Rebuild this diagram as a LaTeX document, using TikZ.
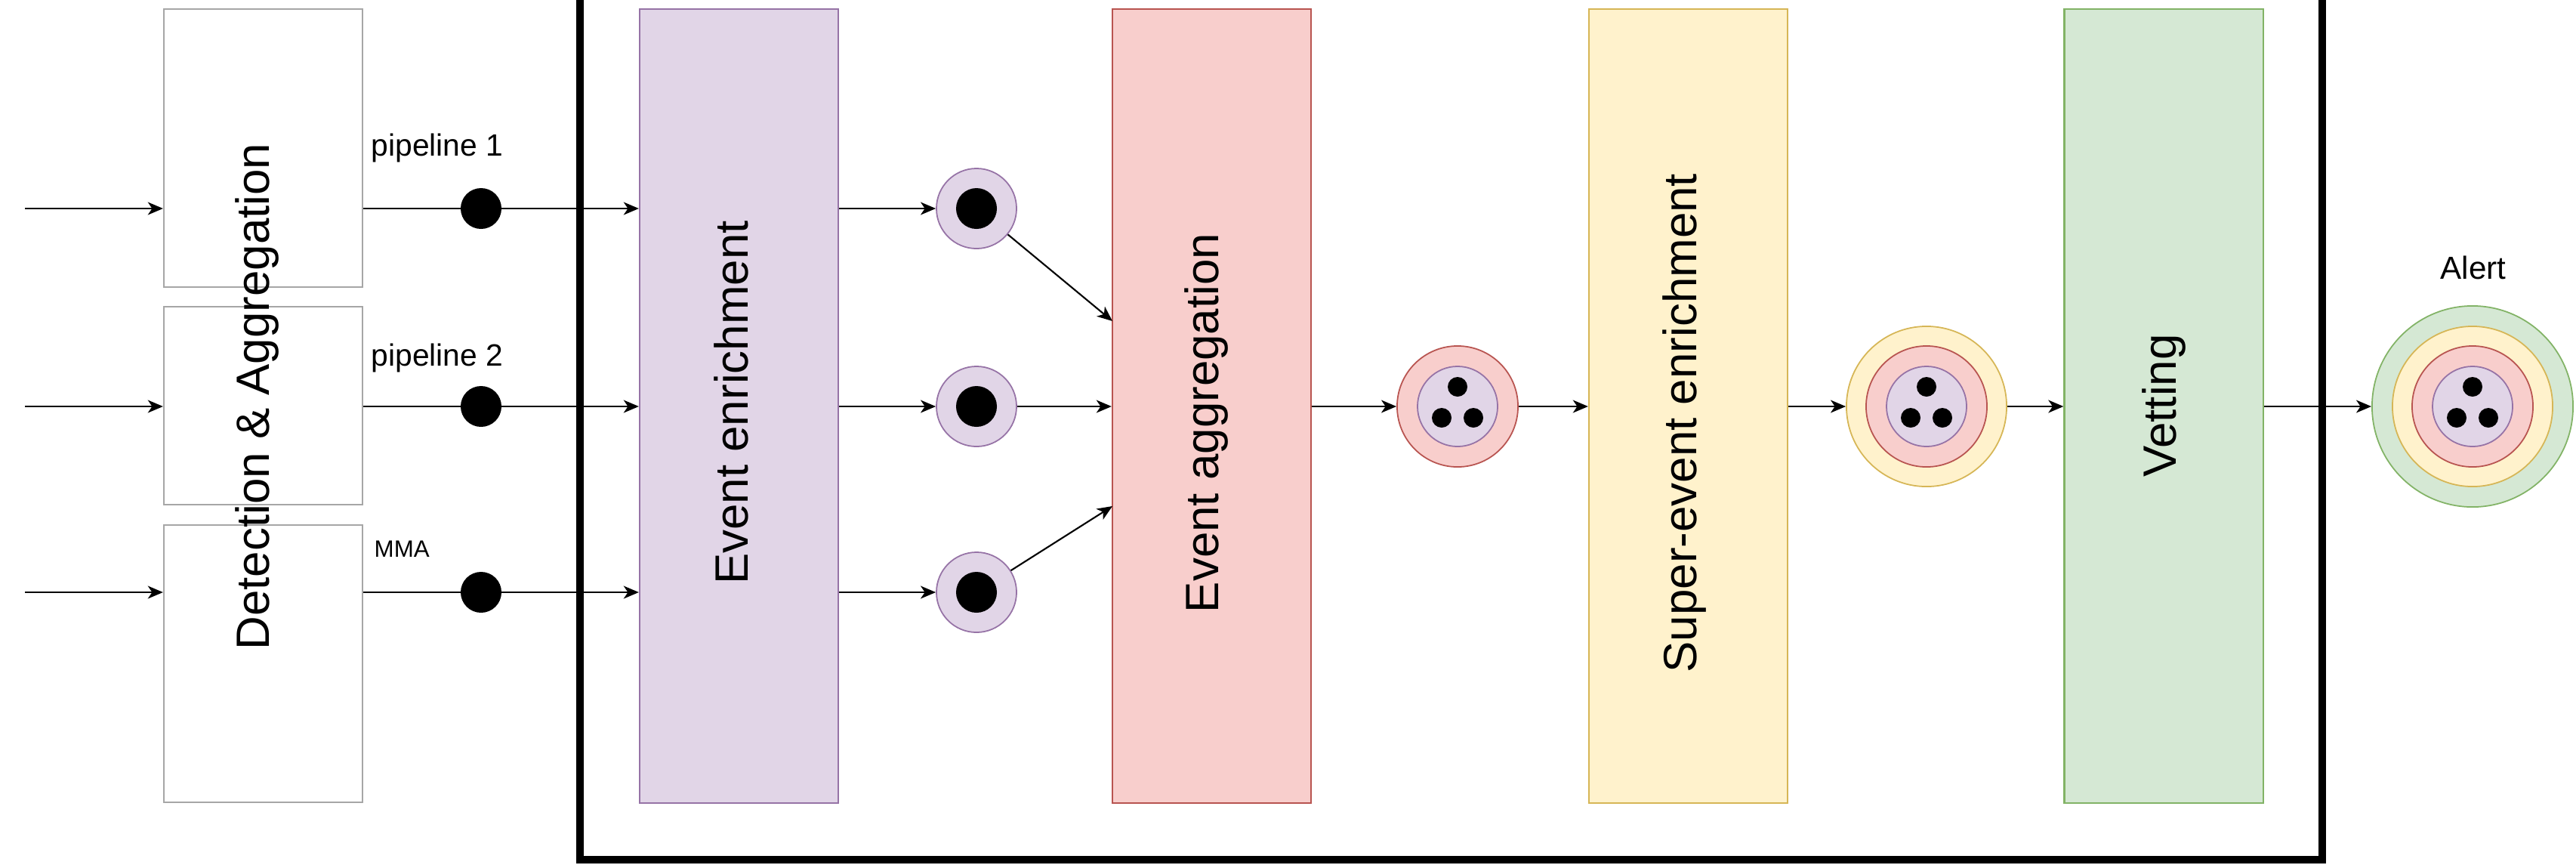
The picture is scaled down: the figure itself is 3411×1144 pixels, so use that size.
\documentclass[tikz,border=0pt]{standalone}
\usepackage{fontspec}
\setmainfont{Liberation Sans}
\usetikzlibrary{arrows.meta}
\definecolor{pfill}{HTML}{E1D5E7}
\definecolor{pstroke}{HTML}{9673A6}
\definecolor{rfill}{HTML}{F8CECC}
\definecolor{rstroke}{HTML}{B85450}
\definecolor{yfill}{HTML}{FFF2CC}
\definecolor{ystroke}{HTML}{D6B656}
\definecolor{gfill}{HTML}{D5E8D4}
\definecolor{gstroke}{HTML}{82B366}
\definecolor{dagray}{HTML}{A6A6A6}
\tikzset{
 arr/.style={-{Stealth[length=5.7pt,width=4.8pt,inset=1.6pt]}, line width=0.6pt},
 dabox/.style={rectangle, draw=dagray, line width=0.6pt, minimum width=2.63cm, inner sep=0},
 stage/.style={rectangle, line width=0.6pt, minimum width=2.63cm, minimum height=10.51cm, inner sep=0},
 ring/.style={circle, inner sep=0, line width=0.5pt},
 bigdot/.style={circle, fill=black, inner sep=0, minimum size=0.54cm},
 sdot/.style={circle, fill=black, inner sep=0, minimum size=0.26cm},
 bigtxt/.style={font=\fontsize{17.6}{21}\selectfont, rotate=90, inner sep=0},
 lbl/.style={font=\fontsize{11.6}{14}\selectfont, inner sep=0, anchor=west},
 prp/.style={fill=pfill, draw=pstroke},
 red/.style={fill=rfill, draw=rstroke},
 yel/.style={fill=yfill, draw=ystroke},
 grn/.style={fill=gfill, draw=gstroke},
}
\begin{document}
\begin{tikzpicture}[x=0.01cm,y=-0.01cm]
\useasboundingbox (0,0) rectangle (3411,1144);

% outer frame (top edge outside the picture)
\draw[line width=3pt] (768,-40) -- (768,1138) -- (3075,1138) -- (3075,-40);

% detection boxes
\node[dabox, minimum height=3.68cm] (d1) at (348.5,196) {};
\node[dabox, minimum height=2.62cm] (d2) at (348.5,537) {};
\node[dabox, minimum height=3.67cm] (d3) at (348.5,878.5) {};
\node[bigtxt] (dtxt) at (340,525) {Detection \& Aggregation};

% stages
\node[stage, prp] (enr) at (978.5,537.5) {};
\node[stage, red] (agg) at (1604.5,537.5) {};
\node[stage, yel] (sup) at (2235.5,537.5) {};
\node[stage, grn] (vet) at (2865,537.5) {};
\node[bigtxt] (enrt) at (968,533) {Event enrichment};
\node[bigtxt] (aggt) at (1597,560) {Event aggregation};
\node[bigtxt] (supt) at (2230,560) {Super-event enrichment};
\node[bigtxt] (vett) at (2865,537) {Vetting};

% inputs
\coordinate (in1) at (33,276);
\coordinate (in2) at (33,538);
\coordinate (in3) at (33,784);
\draw[arr] (in1) -- (in1 -| d1.west);
\draw[arr] (in2) -- (in2 -| d2.west);
\draw[arr] (in3) -- (in3 -| d3.west);

% pipelines
\node[bigdot] (p1) at (637,276) {};
\node[bigdot] (p2) at (637,538) {};
\node[bigdot] (p3) at (637,784) {};
\draw[arr] (p1 -| d1.east) -- (p1 -| enr.west);
\draw[arr] (p2 -| d2.east) -- (p2 -| enr.west);
\draw[arr] (p3 -| d3.east) -- (p3 -| enr.west);
\node[lbl] (l1) at (491,196) {pipeline 1};
\node[lbl] (l2) at (491,474) {pipeline 2};
\node[lbl, font=\fontsize{8.9}{11}\selectfont] (l3) at (495,727) {MMA};

% enriched events
\node[ring, prp, minimum size=1.06cm] (e1) at (1293,276) {};
\node[ring, prp, minimum size=1.06cm] (e2) at (1293,538) {};
\node[ring, prp, minimum size=1.06cm] (e3) at (1293,784) {};
\node[bigdot] (e1d) at (e1) {};
\node[bigdot] (e2d) at (e2) {};
\node[bigdot] (e3d) at (e3) {};
\draw[arr] (e1 -| enr.east) -- (e1);
\draw[arr] (e2 -| enr.east) -- (e2);
\draw[arr] (e3 -| enr.east) -- (e3);
\coordinate (ag1) at (1473,425);
\coordinate (ag3) at (1473,670);
\draw[arr] (e1) -- (ag1);
\draw[arr] (e2) -- (e2 -| agg.west);
\draw[arr] (e3) -- (ag3);

% super-event
\node[ring, red, minimum size=1.6cm] (c1) at (1930,538) {};
\node[ring, prp, minimum size=1.06cm] (c1p) at (c1) {};
\node[sdot] (c1a) at (1930,512) {};
\node[sdot] (c1b) at (1909,553) {};
\node[sdot] (c1c) at (1951,553) {};

% enriched super-event
\node[ring, yel, minimum size=2.12cm] (c2) at (2551,538) {};
\node[ring, red, minimum size=1.6cm] (c2r) at (c2) {};
\node[ring, prp, minimum size=1.06cm] (c2p) at (c2) {};
\node[sdot] (c2a) at (2551,512) {};
\node[sdot] (c2b) at (2530,553) {};
\node[sdot] (c2c) at (2572,553) {};

% alert
\node[ring, grn, minimum size=2.66cm] (c3) at (3274,538) {};
\node[ring, yel, minimum size=2.12cm] (c3y) at (c3) {};
\node[ring, red, minimum size=1.6cm] (c3r) at (c3) {};
\node[ring, prp, minimum size=1.06cm] (c3p) at (c3) {};
\node[sdot] (c3a) at (3274,512) {};
\node[sdot] (c3b) at (3253,553) {};
\node[sdot] (c3c) at (3295,553) {};
\node[font=\fontsize{12}{14}\selectfont, inner sep=0] (alt) at (3275,354) {Alert};

\draw[arr] (agg.east |- c1) -- (c1.west);
\draw[arr] (c1.east) -- (sup.west |- c1);
\draw[arr] (sup.east |- c2) -- (c2.west);
\draw[arr] (c2.east) -- (vet.west |- c2);
\draw[arr] (vet.east |- c3) -- (c3.west);
\end{tikzpicture}
\end{document}
